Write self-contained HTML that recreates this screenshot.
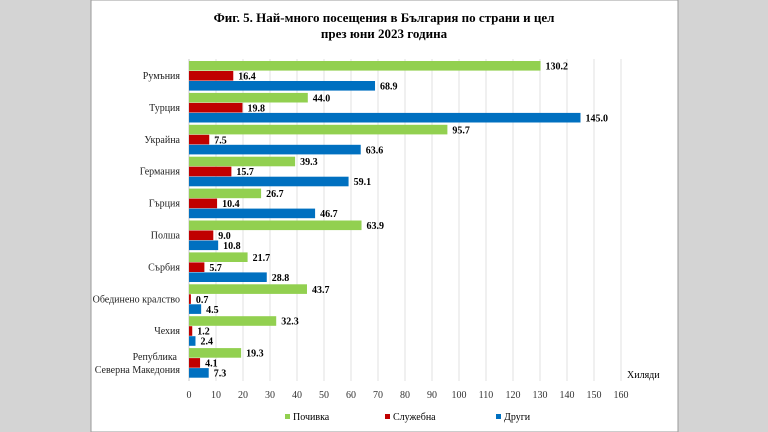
<!DOCTYPE html>
<html><head><meta charset="utf-8"><style>
body{margin:0;width:768px;height:432px;background:#d4d4d4;overflow:hidden}
svg{display:block}
</style></head><body>
<svg width="768" height="432" xmlns="http://www.w3.org/2000/svg" font-family="Liberation Serif, serif">
<rect x="91" y="0" width="587" height="432" fill="#fff" stroke="#9a9a9a" stroke-width="1"/>
<text x="384" y="22" text-anchor="middle" font-size="13" font-weight="bold">Фиг. 5. Най-много посещения в България по страни и цел</text>
<text x="384" y="38" text-anchor="middle" font-size="13" font-weight="bold">през юни 2023 година</text>
<g stroke="#e0e0e0" stroke-width="1">
<line x1="189" y1="59" x2="189" y2="381" stroke="#c8c8c8"/>
<line x1="216" y1="59" x2="216" y2="381"/><line x1="243" y1="59" x2="243" y2="381"/><line x1="270" y1="59" x2="270" y2="381"/><line x1="297" y1="59" x2="297" y2="381"/><line x1="324" y1="59" x2="324" y2="381"/><line x1="351" y1="59" x2="351" y2="381"/><line x1="378" y1="59" x2="378" y2="381"/><line x1="405" y1="59" x2="405" y2="381"/><line x1="432" y1="59" x2="432" y2="381"/><line x1="459" y1="59" x2="459" y2="381"/><line x1="486" y1="59" x2="486" y2="381"/><line x1="513" y1="59" x2="513" y2="381"/><line x1="540" y1="59" x2="540" y2="381"/><line x1="567" y1="59" x2="567" y2="381"/><line x1="594" y1="59" x2="594" y2="381"/><line x1="621" y1="59" x2="621" y2="381"/>
</g>
<g font-size="10" text-anchor="middle" fill="#333">
<text x="189" y="398">0</text><text x="216" y="398">10</text><text x="243" y="398">20</text><text x="270" y="398">30</text><text x="297" y="398">40</text><text x="324" y="398">50</text><text x="351" y="398">60</text><text x="378" y="398">70</text><text x="405" y="398">80</text><text x="432" y="398">90</text><text x="459" y="398">100</text><text x="486" y="398">110</text><text x="513" y="398">120</text><text x="540" y="398">130</text><text x="567" y="398">140</text><text x="594" y="398">150</text><text x="621" y="398">160</text>
</g>
<text x="627" y="378" font-size="10">Хиляди</text>
<g id="bars" font-size="10" font-weight="bold"></g>
<g font-size="10" text-anchor="end" fill="#222" id="labels"></g>
<rect x="285" y="414" width="5" height="5" fill="#92d050"/><text x="293" y="420" font-size="10">Почивка</text>
<rect x="385" y="414" width="5" height="5" fill="#c00000"/><text x="393" y="420" font-size="10">Служебна</text>
<rect x="496" y="414" width="5" height="5" fill="#0070c0"/><text x="504" y="420" font-size="10">Други</text>
<script>
var d=[["Румъния",130.2,16.4,68.9],["Турция",44.0,19.8,145.0],["Украйна",95.7,7.5,63.6],["Германия",39.3,15.7,59.1],["Гърция",26.7,10.4,46.7],["Полша",63.9,9.0,10.8],["Сърбия",21.7,5.7,28.8],["Обединено кралство",43.7,0.7,4.5],["Чехия",32.3,1.2,2.4],["Република|Северна Македония",19.3,4.1,7.3]];
var c=["#92d050","#c00000","#0070c0"],ns="http://www.w3.org/2000/svg";
var B=document.getElementById("bars"),L=document.getElementById("labels");
d.forEach(function(r,i){var y0=61+i*31.9;
for(var k=0;k<3;k++){var y=y0+k*10,w=r[k+1]*2.7;
var e=document.createElementNS(ns,"rect");e.setAttribute("x",189);e.setAttribute("y",y);e.setAttribute("width",w);e.setAttribute("height",9.6);e.setAttribute("fill",c[k]);B.appendChild(e);
var t=document.createElementNS(ns,"text");t.setAttribute("x",189+w+5);t.setAttribute("y",y+8.5);t.textContent=r[k+1].toFixed(1);B.appendChild(t);}
var p=r[0].split("|");
if(p.length==1){var t=document.createElementNS(ns,"text");t.setAttribute("x",180);t.setAttribute("y",y0+18);t.textContent=p[0];L.appendChild(t);}
else{var t=document.createElementNS(ns,"text");t.setAttribute("x",177);t.setAttribute("y",y0+12);t.textContent=p[0];L.appendChild(t);
var t2=document.createElementNS(ns,"text");t2.setAttribute("x",180);t2.setAttribute("y",y0+25);t2.textContent=p[1];L.appendChild(t2);}
});
</script>
</svg>
</body></html>
